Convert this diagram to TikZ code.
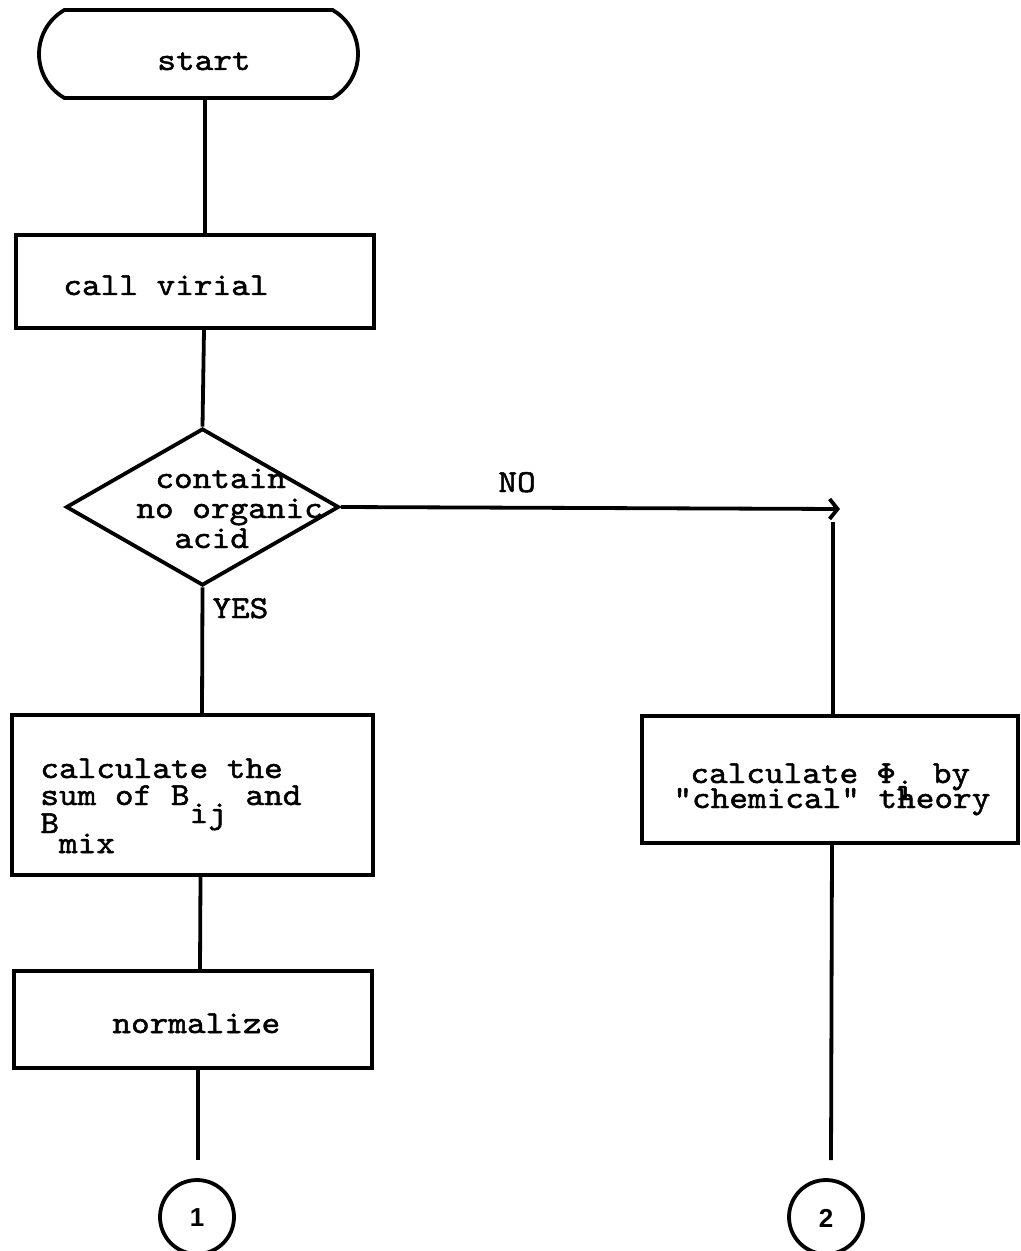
\documentclass[tikz,border=0pt]{standalone}
\usepackage{fontspec}
\newfontfamily\tw{lmmono10-regular}[Extension=.otf,FakeStretch=1.11,FakeBold=1.5]
\newfontfamily\twdigit{Liberation Sans Bold}
\usetikzlibrary{shapes.geometric,shapes.misc,arrows.meta}
\begin{document}
\begin{tikzpicture}[x=0.5pt,y=-0.5pt,
  line/.style={line width=1.9pt},
  frame/.style={draw,line width=1.9pt,inner sep=0pt,rectangle},
  terminal/.style={draw,line width=1.9pt,inner sep=0pt,rounded rectangle,rounded rectangle arc length=120},
  decision/.style={draw,line width=1.9pt,inner sep=0pt,diamond},
  connector/.style={draw,line width=1.9pt,inner sep=0pt,circle,minimum size=37pt},
  label/.style={font=\fontsize{16pt}{16pt}\tw,anchor=base west,inner sep=0pt},
  digit/.style={font=\fontsize{13pt}{13pt}\twdigit,inner sep=0pt},
  flowarrow/.style={line width=1.9pt,-{Straight Barb[length=4pt,width=10pt,line width=1.9pt]}}
]
\useasboundingbox (0,0) rectangle (1021,1251);

% shapes of the flow chart
\node[terminal,minimum width=159.5pt,minimum height=44pt] (start) at (198.5,54) {};
\node[frame,minimum width=179pt,minimum height=46.5pt] (virial) at (195,281.5) {};
\node[decision,minimum width=136.5pt,minimum height=78.5pt] (dec) at (202.5,507) {};
\node[frame,minimum width=180.5pt,minimum height=80pt] (sumbox) at (192.5,795) {};
\node[frame,minimum width=179pt,minimum height=48.5pt] (normbox) at (193,1019.5) {};
\node[frame,minimum width=188pt,minimum height=63.5pt] (chembox) at (830,779.5) {};
\node[connector] (c1) at (197,1217) {};
\node[connector] (c2) at (826,1217) {};

% texts
\node[label] (tstart) at (157,70) {start};
\node[label] (tvirial) at (63,295) {call virial};
\node[label] (td1) at (155,488) {contain};
\node[label] (td2) at (136,518) {no organic};
\node[label] (td3) at (174,548) {acid};
\node[label] (tno) at (498,492) {NO};
\node[label] (tyes) at (212,618) {YES};
\node[label] (ts1) at (40,778) {calculate the};
\node[label] (ts2) at (40,805) {sum of B\raisebox{-9pt}{ij} and};
\node[label] (ts3) at (40,833) {B\raisebox{-10pt}{mix}};
\node[label] (tc1) at (690,783) {calculate Φ\raisebox{-8.5pt}{i} by};
\node[label] (tc2) at (673,808) {"chemical" theory};
\node[label] (tnorm) at (112,1033) {normalize};
\node[digit] (d1) at (197,1218) {1};
\node[digit] (d2) at (826,1218) {2};

% connectors
\draw[line] ([xshift=3.25pt]start.south) -- ([xshift=5pt]virial.south |- virial.north);
\draw[line] ([xshift=4.5pt]virial.south) -- (dec.north);
\draw[line] (dec.south) -- ([xshift=4.75pt]sumbox.north);
\draw[line] ([xshift=4pt]sumbox.south) -- ([xshift=3.5pt]normbox.north);
\draw[line] ([xshift=2.5pt]normbox.south) -- ([yshift=9pt,xshift=0.5pt]c1.north);
\coordinate (noend) at (840,509);
\draw[flowarrow] (dec.east) -- (noend);
\coordinate (rtop) at (833,522);
\draw[line] (rtop) -- ([xshift=1.5pt]chembox.north);
\draw[line] ([xshift=1pt]chembox.south) -- ([yshift=9pt,xshift=2.5pt]c2.north);
\end{tikzpicture}
\end{document}
